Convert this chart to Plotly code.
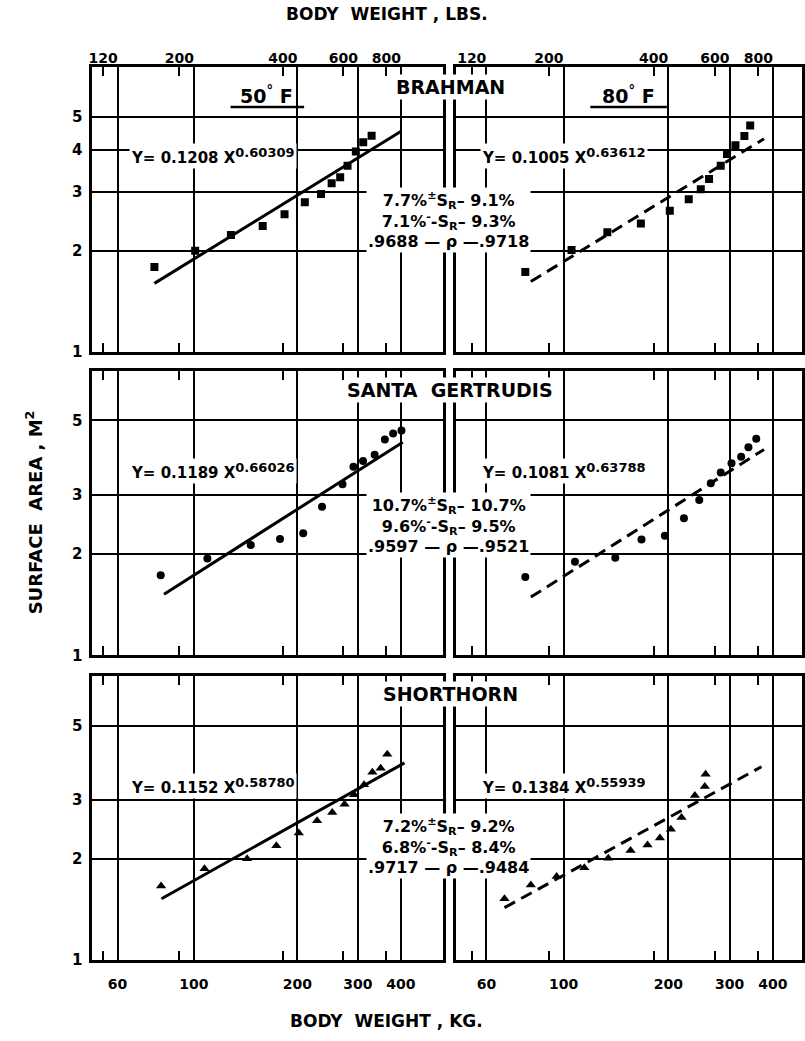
import math
import plotly.graph_objects as go

# ---------------- data ----------------
# Brahman
brahman_50_kg = [76.8, 100.9, 128.2, 158.6, 183.6, 210.3, 234.4, 251.7, 266.5, 280, 296, 311, 329]
brahman_50_area = [1.79, 2.00, 2.23, 2.37, 2.57, 2.79, 2.95, 3.18, 3.31, 3.58, 3.95, 4.21, 4.40]
brahman_50_fit_kg = [76.8, 401]
brahman_50_fit_area = [1.60, 4.54]

brahman_80_kg = [77.6, 105.4, 133.6, 166.8, 202, 229, 248, 262, 283, 295, 312, 331, 344]
brahman_80_area = [1.73, 2.01, 2.27, 2.41, 2.63, 2.85, 3.05, 3.27, 3.58, 3.88, 4.12, 4.39, 4.72]
brahman_80_fit_kg = [80.5, 377]
brahman_80_fit_area = [1.62, 4.31]

# Santa Gertrudis
santa_50_kg = [80.1, 109.5, 146.4, 178.1, 208, 236, 270.7, 291.3, 310.6, 335.7, 359.5, 380, 401.8]
santa_50_area = [1.73, 1.94, 2.13, 2.22, 2.31, 2.77, 3.23, 3.64, 3.79, 3.95, 4.39, 4.57, 4.67]
santa_50_fit_kg = [81.9, 405.3]
santa_50_fit_area = [1.52, 4.31]

santa_80_kg = [77.6, 107.8, 140.8, 167.5, 195.5, 221.8, 245.5, 265, 283, 304, 324, 340, 358]
santa_80_area = [1.71, 1.90, 1.95, 2.21, 2.27, 2.56, 2.90, 3.25, 3.50, 3.73, 3.90, 4.16, 4.41]
santa_80_fit_kg = [80.5, 377]
santa_80_fit_area = [1.49, 4.10]

# Shorthorn
short_50_kg = [80.3, 107.4, 142.9, 173.8, 202, 228.3, 252.7, 274.4, 292.6, 312.7, 330.7, 349.5, 365.3]
short_50_area = [1.66, 1.87, 2.00, 2.19, 2.39, 2.60, 2.75, 2.91, 3.11, 3.33, 3.63, 3.73, 4.11]
short_50_fit_kg = [80.5, 410]
short_50_fit_area = [1.52, 3.87]

short_80_kg = [67.6, 80.5, 95.5, 114.7, 134.4, 155.8, 174.3, 189.2, 203.4, 218.3, 238.5, 254.7, 256]
short_80_area = [1.52, 1.67, 1.77, 1.88, 2.01, 2.12, 2.20, 2.31, 2.45, 2.66, 3.09, 3.29, 3.58]
short_80_fit_kg = [67.6, 370.7]
short_80_fit_area = [1.43, 3.77]

breeds = ["BRAHMAN", "SANTA  GERTRUDIS", "SHORTHORN"]
equations_50 = [("0.1208", "0.60309"), ("0.1189", "0.66026"), ("0.1152", "0.58780")]
equations_80 = [("0.1005", "0.63612"), ("0.1081", "0.63788"), ("0.1384", "0.55939")]
stats = [
    ("7.7", "9.1", "7.1", "9.3", ".9688", ".9718"),
    ("10.7", "10.7", "9.6", "9.5", ".9597", ".9521"),
    ("7.2", "9.2", "6.8", "8.4", ".9717", ".9484"),
]

kg_ticks = [60, 100, 200, 300, 400]
lbs_ticks = [120, 200, 400, 600, 800]
area_ticks_top = [1, 2, 3, 4, 5]
area_ticks = [1, 2, 3, 5]
LB_PER_KG = 2.2046

panels = [
    [(brahman_50_kg, brahman_50_area, brahman_50_fit_kg, brahman_50_fit_area, "square", "solid"),
     (brahman_80_kg, brahman_80_area, brahman_80_fit_kg, brahman_80_fit_area, "square", "12px,7px")],
    [(santa_50_kg, santa_50_area, santa_50_fit_kg, santa_50_fit_area, "circle", "solid"),
     (santa_80_kg, santa_80_area, santa_80_fit_kg, santa_80_fit_area, "circle", "12px,7px")],
    [(short_50_kg, short_50_area, short_50_fit_kg, short_50_fit_area, "triangle-up", "solid"),
     (short_80_kg, short_80_area, short_80_fit_kg, short_80_fit_area, "triangle-up", "12px,7px")],
]

# ---------------- layout geometry ----------------
W, H = 805, 1041
FONT = "DejaVu Sans"


def px(x):
    return x / W


def py(y):
    return 1 - y / H


col_px = [(89, 442), (455, 803)]
row_px = [(68, 355), (374, 661), (682, 968)]
x_ranges = [[math.log10(50.7), math.log10(531.6)], [math.log10(49.1), math.log10(484.8)]]
y_range = [0, math.log10(7.03)]

fig = go.Figure()
layout = dict(
    width=W, height=H, margin=dict(l=0, r=0, t=0, b=0),
    paper_bgcolor="white", plot_bgcolor="white", showlegend=False,
    font=dict(family=FONT, color="black"),
)

tick_font = dict(family=FONT, size=14, color="black", weight="bold")

idx = 0
for r in range(3):
    for c in range(2):
        idx += 1
        xname = "xaxis" if idx == 1 else f"xaxis{idx}"
        yname = "yaxis" if idx == 1 else f"yaxis{idx}"
        xref = "x" if idx == 1 else f"x{idx}"
        yref = "y" if idx == 1 else f"y{idx}"
        xd = [px(col_px[c][0]), px(col_px[c][1])]
        yd = [py(row_px[r][1]), py(row_px[r][0])]
        layout[xname] = dict(
            type="log", domain=xd, range=x_ranges[c], anchor=yref,
            tickmode="array", tickvals=kg_ticks, ticktext=[str(v) for v in kg_ticks],
            showticklabels=(r == 2), ticks="", tickfont=tick_font, ticklabelstandoff=10,
            showgrid=True, gridcolor="black", gridwidth=1.8,
            showline=True, linecolor="black", linewidth=3, mirror="ticks",
            zeroline=False,
            minor=dict(tickmode="array", tickvals=[v / LB_PER_KG for v in lbs_ticks],
                       ticks="inside", ticklen=9, tickwidth=1.5, tickcolor="black",
                       showgrid=False),
        )
        yt = area_ticks_top if r == 0 else area_ticks
        layout[yname] = dict(
            type="log", domain=yd, range=y_range, anchor=xref,
            tickmode="array", tickvals=yt, ticktext=[str(v) for v in yt],
            showticklabels=(c == 0), ticks="",
            tickfont=dict(family=FONT, size=15, color="black", weight="bold"),
            ticklabelstandoff=4,
            showgrid=True, gridcolor="black", gridwidth=1.8,
            showline=True, linecolor="black", linewidth=3, mirror=True,
            zeroline=False,
        )
        kg, area, fkg, farea, sym, dash = panels[r][c]
        fig.add_trace(go.Scatter(
            x=fkg, y=farea, mode="lines", xaxis=xref, yaxis=yref,
            line=dict(color="black", width=3, dash=dash), hoverinfo="skip"))
        fig.add_trace(go.Scatter(
            x=kg, y=area, mode="markers", xaxis=xref, yaxis=yref,
            marker=dict(symbol=sym, color="black", size=9 if sym == "triangle-up" else 8,
                        line=dict(width=0))))

# top lbs axes for the first row (same fits, expressed in pounds, drawn invisibly
# so that plotly renders the overlaying axis)
off = math.log10(LB_PER_KG)
for c, (base, yref, fkg, farea) in enumerate([
        ("x", "y", brahman_50_fit_kg, brahman_50_fit_area),
        ("x2", "y2", brahman_80_fit_kg, brahman_80_fit_area)]):
    name = f"xaxis{7 + c}"
    layout[name] = dict(
        type="log", overlaying=base, anchor=yref, side="top",
        domain=[px(col_px[c][0]), px(col_px[c][1])],
        range=[x_ranges[c][0] + off, x_ranges[c][1] + off],
        tickmode="array", tickvals=lbs_ticks, ticktext=[str(v) for v in lbs_ticks],
        ticks="", showgrid=False, showline=False, zeroline=False,
        tickfont=tick_font, ticklabelstandoff=1,
    )
    fig.add_trace(go.Scatter(
        x=[v * LB_PER_KG for v in fkg], y=farea, mode="lines",
        xaxis=f"x{7 + c}", yaxis=yref, opacity=0,
        line=dict(width=0.1, color="white"), hoverinfo="skip"))

annotations = []
shapes = []


def ann(x, y, text, size=15, bg=None, angle=0, align="center", xanchor="center"):
    d = dict(x=px(x), y=py(y), xref="paper", yref="paper", text=text, showarrow=False,
             font=dict(family=FONT, size=size, color="black", weight="bold"),
             textangle=angle, align=align, xanchor=xanchor, yanchor="middle", borderpad=1)
    if bg:
        d["bgcolor"] = bg
    annotations.append(d)


ann(385, 14, "BODY  WEIGHT , LBS.", size=17)
ann(385, 1030, "BODY  WEIGHT , KG.", size=17)
ann(30, 517, "SURFACE  AREA , M<sup>2</sup>", size=18, angle=-90)

title_y = [88, 393, 700]
eq_y = [157, 475, 793]
stat_y = [222, 530, 853]
for r in range(3):
    ann(449, title_y[r], breeds[r], size=19, bg="white")
    a, b = equations_50[r]
    ann(210, eq_y[r], f"Y= {a} X<sup><span style='font-size:13px'>{b}</span></sup>", size=15, bg="white")
    a, b = equations_80[r]
    ann(563, eq_y[r], f"Y= {a} X<sup><span style='font-size:13px'>{b}</span></sup>", size=15, bg="white")
    s = stats[r]
    txt = (f"{s[0]}%<sup>±</sup>S<sub>R</sub>– {s[1]}%<br>"
           f"{s[2]}%<sup>-</sup>-S<sub>R</sub>– {s[3]}%<br>"
           f"{s[4]} — ρ —{s[5]}")
    ann(447, stat_y[r], txt, size=16, bg="white")

ann(264, 96, "50<sup>°</sup> F", size=19)
ann(628, 96, "80<sup>°</sup> F", size=19)
for (x0, x1) in [(228, 302), (590, 667)]:
    shapes.append(dict(type="line", xref="paper", yref="paper", x0=px(x0), x1=px(x1),
                       y0=py(108), y1=py(108), line=dict(color="black", width=2.5)))

layout["annotations"] = annotations
layout["shapes"] = shapes
fig.update_layout(**layout)
fig.write_html("out.html")
